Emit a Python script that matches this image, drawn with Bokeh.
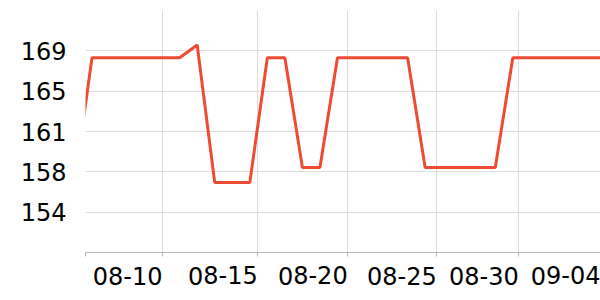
from bokeh.plotting import figure
from bokeh.models import FixedTicker, Range1d, ColumnDataSource
from bokeh.embed import file_html
from bokeh.resources import INLINE

dates = ["08-05", "08-06", "08-07", "08-08", "08-09", "08-10", "08-11", "08-12",
         "08-13", "08-14", "08-15", "08-16", "08-17", "08-18", "08-19", "08-20",
         "08-21", "08-22", "08-23", "08-24", "08-25", "08-26", "08-27", "08-28",
         "08-29", "08-30", "08-31", "09-01", "09-02", "09-03", "09-04"]
values = [156.3, 168.1, 168.1, 168.1, 168.1, 168.1, 168.1, 169.3,
          156.5, 156.5, 156.5, 168.1, 168.1, 157.9, 157.9, 168.1,
          168.1, 168.1, 168.1, 168.1, 157.9, 157.9, 157.9, 157.9,
          157.9, 168.1, 168.1, 168.1, 168.1, 168.1, 168.1]

x_tick_pos = [0.63, 5.02, 10.45, 15.58, 20.66, 25.34, 30.0]
x_tick_labels = ["", "08-10", "08-15", "08-20", "08-25", "08-30", "09-04"]
y_ticks = [153.75, 157.5, 161.25, 165.0, 168.75]
y_tick_labels = ["154", "158", "161", "165", "169"]

src = ColumnDataSource(dict(x=list(range(len(dates))), y=values, d=dates))

p = figure(width=600, height=300, output_backend="svg", toolbar_location=None,
           x_range=Range1d(x_tick_pos[0], x_tick_pos[-1]), y_range=Range1d(150, 172.5),
           min_border_left=85, min_border_right=0, min_border_top=10, min_border_bottom=48)
p.outline_line_color = None
p.background_fill_color = "white"

p.line("x", "y", source=src, line_color="#ef4b32", line_width=3)

font = "DejaVu Sans"
grid = "#dcdcdc"

xa = p.xaxis[0]
xa.ticker = FixedTicker(ticks=x_tick_pos)
xa.major_label_overrides = {t: l for t, l in zip(x_tick_pos, x_tick_labels)}
xa.minor_tick_line_color = None
xa.axis_line_color = "#b8b8b8"
xa.major_tick_line_color = "#b8b8b8"
xa.major_tick_out = 4
xa.major_tick_in = 0
xa.major_label_standoff = 19
xa.major_label_orientation = 1e-7
xa.major_label_text_font = font
xa.major_label_text_font_size = "24px"
xa.major_label_text_color = "#000000"

ya = p.yaxis[0]
ya.ticker = FixedTicker(ticks=y_ticks)
ya.major_label_overrides = {t: l for t, l in zip(y_ticks, y_tick_labels)}
ya.minor_tick_line_color = None
ya.axis_line_color = None
ya.major_tick_line_color = None
ya.major_tick_out = 0
ya.major_tick_in = 0
ya.major_label_standoff = 19
ya.major_label_text_font = font
ya.major_label_text_font_size = "24px"
ya.major_label_text_color = "#000000"

p.xgrid.grid_line_color = grid
p.ygrid.grid_line_color = grid

open("out.html", "w").write(file_html(p, INLINE))
